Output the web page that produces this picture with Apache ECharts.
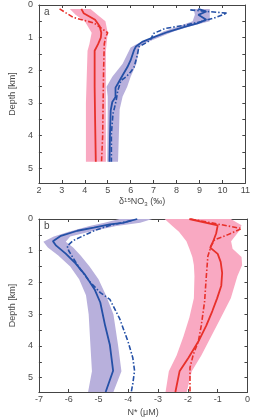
<!DOCTYPE html>
<html><head><meta charset="utf-8">
<script src="https://cdn.jsdelivr.net/npm/echarts@6/dist/echarts.min.js"></script>
<style>html,body{margin:0;padding:0;background:#fff}#c{width:253px;height:418px}</style>
</head><body><div id="c"></div>
<script>
// ---------- Panel a : delta15N-NO3 (permil) vs depth (km) ----------
const xTicksA = [2, 11];
const redSolidA_depth = [0.12, 0.25, 0.45, 0.65, 0.85, 1.0, 1.2, 1.4, 2.5, 3.5, 4.8];
const redSolidA_val   = [3.85, 3.95, 4.45, 4.65, 4.72, 4.70, 4.58, 4.43, 4.43, 4.45, 4.48];
const redDashA_depth  = [0.12, 0.38, 0.55, 0.85, 1.0, 1.2, 2.0, 3.0, 4.0, 4.8];
const redDashA_val    = [2.9, 3.5, 4.4, 5.0, 4.9, 4.85, 4.82, 4.8, 4.78, 4.73];
const redBandA_depth  = [0.12, 0.3, 0.5, 0.85, 1.2, 1.4, 3.0, 4.8];
const redBandA_lo     = [3.35, 3.6, 4.0, 4.3, 4.2, 4.12, 4.05, 4.05];
const redBandA_hi     = [4.25, 4.55, 4.9, 5.0, 4.95, 4.92, 4.92, 4.92];

const blueSolidA_depth = [0.12, 0.2, 0.3, 0.45, 0.56, 0.67, 0.82, 0.97, 1.13, 1.28, 1.38, 1.69, 1.9, 2.15, 2.41, 2.53, 2.82, 2.97, 3.23, 3.95, 4.8];
const blueSolidA_val   = [8.95, 9.3, 8.95, 9.3, 8.91, 8.35, 7.64, 7.07, 6.5, 6.22, 6.15, 6.0, 5.86, 5.65, 5.44, 5.34, 5.34, 5.2, 5.13, 5.1, 5.08];
const blueDashA_depth  = [0.15, 0.25, 0.4, 0.51, 0.62, 0.72, 0.87, 1.08, 1.28, 1.54, 1.9, 2.05, 2.2, 2.31, 2.62, 2.92, 3.13, 3.33, 3.95, 4.8];
const blueDashA_val    = [8.6, 10.2, 9.63, 9.06, 8.35, 7.5, 7.0, 6.86, 6.36, 6.29, 6.15, 6.0, 5.8, 5.58, 5.44, 5.37, 5.3, 5.23, 5.16, 5.16];
const blueBandA_depth  = [0.12, 0.3, 0.5, 0.65, 0.8, 1.0, 1.2, 1.3, 1.8, 2.2, 2.5, 2.8, 3.2, 4.8];
const blueBandA_lo     = [8.75, 8.8, 8.7, 8.1, 7.45, 6.9, 6.25, 6.0, 5.65, 5.2, 4.95, 5.0, 5.0, 4.98];
const blueBandA_hi     = [9.45, 9.45, 9.45, 8.6, 7.9, 7.2, 6.5, 6.38, 6.25, 6.0, 5.85, 5.65, 5.52, 5.45];

// ---------- Panel b : N* (uM) vs depth (km) ----------
const xTicksB = [-7, 0];
const blueSolidB_depth = [0, 0.12, 0.17, 0.27, 0.37, 0.53, 0.7, 0.84, 1.09, 1.4, 1.76, 2.22, 2.63, 3.35, 3.96, 4.78, 5.45];
const blueSolidB_val   = [-3.7, -4.18, -4.62, -5.16, -5.71, -6.26, -6.53, -6.42, -6.1, -5.77, -5.45, -5.13, -4.94, -4.78, -4.62, -4.51, -4.76];
const blueDashB_depth  = [0.05, 0.2, 0.35, 0.48, 0.68, 0.85, 1.0, 1.2, 1.6, 2.0, 2.32, 2.53, 3.14, 3.86, 4.37, 4.78, 5.19, 5.45];
const blueDashB_val    = [-3.9, -4.6, -5.1, -5.4, -5.85, -6.05, -6.0, -5.87, -5.6, -5.27, -4.94, -4.62, -4.29, -4.01, -3.85, -3.79, -3.85, -3.9];
const blueBandB_depth  = [0, 0.12, 0.22, 0.4, 0.55, 0.72, 0.9, 1.15, 1.5, 1.9, 2.4, 3.0, 4.0, 4.8, 5.45];
const blueBandB_lo     = [-4.3, -4.8, -5.3, -6.0, -6.5, -6.85, -6.7, -6.35, -5.95, -5.65, -5.42, -5.33, -5.27, -5.22, -5.35];
const blueBandB_hi     = [-3.2, -3.6, -4.4, -5.3, -5.95, -6.1, -5.85, -5.6, -5.3, -5.0, -4.75, -4.5, -4.34, -4.23, -4.5];

const redSolidB_depth = [0, 0.2, 0.45, 0.7, 0.9, 1.1, 1.35, 1.7, 2.1, 2.5, 2.9, 3.35, 3.86, 4.37, 4.8, 5.45];
const redSolidB_val   = [-1.95, -1.0, -1.05, -1.15, -1.25, -1.0, -0.9, -0.85, -0.88, -1.02, -1.18, -1.38, -1.65, -1.98, -2.28, -2.42];
const redDashB_depth  = [0, 0.3, 0.5, 0.65, 0.85, 1.17, 1.78, 2.6, 3.35, 3.86, 4.27, 4.68, 5.45];
const redDashB_val    = [-1.9, -0.2, -0.67, -1.1, -1.22, -1.33, -1.38, -1.44, -1.55, -1.65, -1.82, -1.93, -1.93];
const redBandB_depth  = [0, 0.2, 0.4, 0.7, 0.94, 1.2, 1.45, 1.8, 2.5, 3.1, 3.7, 4.3, 4.8, 5.45];
const redBandB_lo     = [-2.78, -2.55, -2.3, -2.05, -1.95, -1.85, -1.8, -1.78, -1.8, -1.95, -2.15, -2.38, -2.64, -2.75];
const redBandB_hi     = [-0.56, -0.2, -0.3, -0.55, -0.5, -0.2, -0.18, -0.34, -0.56, -0.89, -1.22, -1.55, -1.87, -2.04];

const depthMax = 5.45;

const RED = '#e8302a', PINK = '#f9a9c2', BLUE = '#2450a6', LAV = '#b8b0dc';
const TXT = '#4a4a4a';

function pts(vals, depths){ return vals.map((v,i)=>[v, depths[i]]); }
function bandPoly(lo, hi, depths){
  const left = lo.map((v,i)=>[v, depths[i]]);
  const right = hi.map((v,i)=>[v, depths[i]]).reverse();
  return left.concat(right);
}
function band(poly, color, idx){
  return {
    type: 'custom', xAxisIndex: idx*2, yAxisIndex: idx*2, silent: true, z: 1,
    data: poly,
    encode: {x: 0, y: 1},
    renderItem: function(params, api){
      if (params.dataIndex !== 0) return null;
      const p = poly.map(d => api.coord(d));
      return {type: 'polygon', shape: {points: p}, style: {fill: color}};
    }
  };
}
function line(data, color, idx, dashed){
  return {
    type: 'line', xAxisIndex: idx*2, yAxisIndex: idx*2, data: data,
    showSymbol: false, symbol: 'none', z: 3, silent: true,
    lineStyle: {color: color, width: dashed ? 1.6 : 1.8, type: dashed ? [5, 2, 1.5, 2] : 'solid'}
  };
}

const grids = [
  {left: 37, top: 5, width: 212, height: 178},
  {left: 37, top: 219, width: 213, height: 176}
];

function xAxes(min, max, idx, nameRich, gap){
  const base = {
    type: 'value', gridIndex: idx, min: min, max: max, interval: 1,
    axisLine: {show: true, onZero: false, lineStyle: {color: '#444', width: 1}},
    axisTick: {show: true, inside: true, length: 3, lineStyle: {color: '#444'}},
    splitLine: {show: false}
  };
  return [
    Object.assign({}, base, {position: 'bottom',
      axisLabel: {show: true, color: TXT, fontSize: 9, margin: 3, fontFamily: 'Liberation Sans'},
      name: nameRich.text, nameLocation: 'middle', nameGap: gap,
      nameTextStyle: {color: TXT, fontSize: 9, fontFamily: 'Liberation Sans', rich: nameRich.rich}
    }),
    Object.assign({}, base, {position: 'top', axisLabel: {show: false}})
  ];
}
function yAxes(idx){
  const base = {
    type: 'value', gridIndex: idx, min: 0, max: depthMax, interval: 0.5, inverse: true,
    axisLine: {show: true, onZero: false, lineStyle: {color: '#444', width: 1}},
    axisTick: {show: true, inside: true, length: 3, lineStyle: {color: '#444'}},
    splitLine: {show: false}
  };
  return [
    Object.assign({}, base, {position: 'left',
      axisLabel: {show: true, color: TXT, fontSize: 9, margin: 6, fontFamily: 'Liberation Sans',
        formatter: v => (Math.abs(v - Math.round(v)) < 1e-6 ? String(Math.round(v)) : '')},
      name: 'Depth [km]', nameLocation: 'middle', nameGap: 20,
      nameTextStyle: {color: TXT, fontSize: 9, fontFamily: 'Liberation Sans'}
    }),
    Object.assign({}, base, {position: 'right', axisLabel: {show: false}})
  ];
}

const nameA = {text: 'δ{sup|15}NO{sub|3} (‰)', rich: {
  sup: {fontSize: 6, verticalAlign: 'top', color: TXT, padding: [0,0,4,0]},
  sub: {fontSize: 6, verticalAlign: 'bottom', color: TXT, padding: [4,0,0,0]}}};
const nameB = {text: 'N* (μM)', rich: {}};

const xA = xAxes(xTicksA[0], xTicksA[1], 0, nameA, 14);
const xB = xAxes(xTicksB[0], xTicksB[1], 1, nameB, 16);
const yA = yAxes(0), yB = yAxes(1);

const option = {
  animation: false,
  backgroundColor: '#fff',
  grid: grids.map(g => Object.assign({show: false}, g)),
  xAxis: [xA[0], xA[1], xB[0], xB[1]],
  yAxis: [yA[0], yA[1], yB[0], yB[1]],
  graphic: [
    {type: 'text', left: 44, top: 7, style: {text: 'a', fontSize: 10, fill: TXT, fontFamily: 'Liberation Sans'}},
    {type: 'text', left: 44, top: 221, style: {text: 'b', fontSize: 10, fill: TXT, fontFamily: 'Liberation Sans'}}
  ],
  series: [
    band(bandPoly(redBandA_lo, redBandA_hi, redBandA_depth), PINK, 0),
    band(bandPoly(blueBandA_lo, blueBandA_hi, blueBandA_depth), LAV, 0),
    line(pts(redSolidA_val, redSolidA_depth), RED, 0, false),
    line(pts(redDashA_val, redDashA_depth), RED, 0, true),
    line(pts(blueSolidA_val, blueSolidA_depth), BLUE, 0, false),
    line(pts(blueDashA_val, blueDashA_depth), BLUE, 0, true),
    band(bandPoly(blueBandB_lo, blueBandB_hi, blueBandB_depth), LAV, 1),
    band(bandPoly(redBandB_lo, redBandB_hi, redBandB_depth), PINK, 1),
    line(pts(blueSolidB_val, blueSolidB_depth), BLUE, 1, false),
    line(pts(blueDashB_val, blueDashB_depth), BLUE, 1, true),
    line(pts(redSolidB_val, redSolidB_depth), RED, 1, false),
    line(pts(redDashB_val, redDashB_depth), RED, 1, true)
  ]
};
const chart = echarts.init(document.getElementById('c'), null, {renderer: 'canvas'});
chart.setOption(option);
</script></body></html>
